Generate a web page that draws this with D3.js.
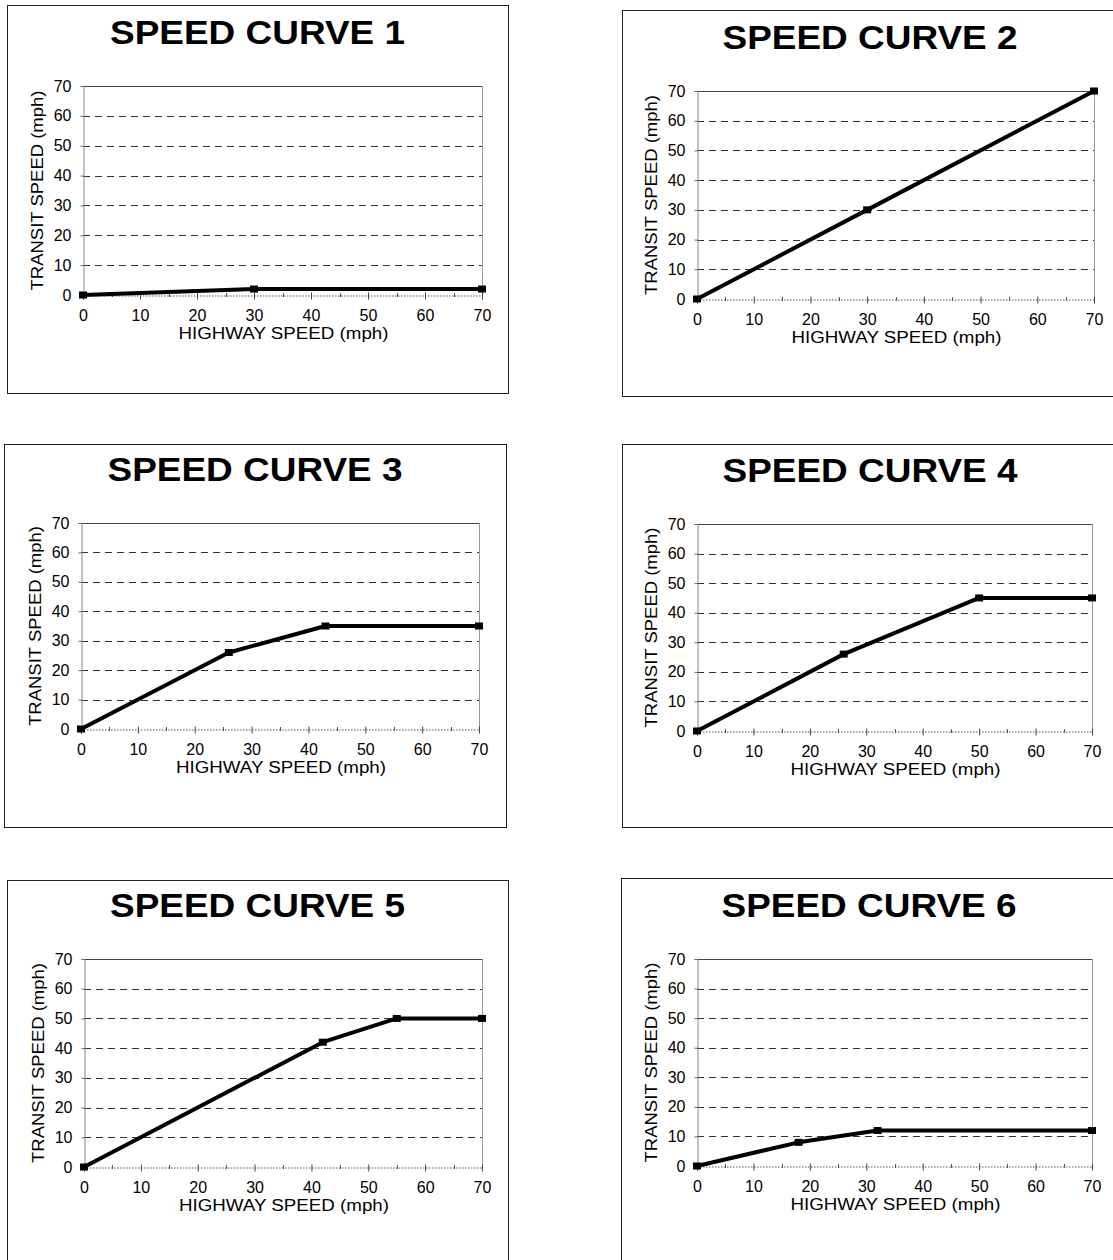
<!DOCTYPE html>
<html>
<head>
<meta charset="utf-8">
<script src="https://cdn.jsdelivr.net/npm/d3@7"></script>
<style>
  html, body { margin: 0; padding: 0; background: #fff; }
  svg { display: block; }
  text { font-family: "Liberation Sans", Arial, sans-serif; fill: #000; }
  .tick text { font-size: 16px; font-family: "Liberation Sans", Arial, sans-serif; }
</style>
</head>
<body>
<svg id="chart" width="1113" height="1260"></svg>
<script>
// Six speed curves: transit speed as a function of highway speed (mph)
const titles = [
  "SPEED CURVE 1", "SPEED CURVE 2", "SPEED CURVE 3",
  "SPEED CURVE 4", "SPEED CURVE 5", "SPEED CURVE 6"
];
const highwaySpeed = [
  [0, 30, 70],
  [0, 30, 70],
  [0, 26, 43, 70],
  [0, 26, 50, 70],
  [0, 42, 55, 70],
  [0, 18, 32, 70]
];
const transitSpeed = [
  [0, 2, 2],
  [0, 30, 70],
  [0, 26, 35, 35],
  [0, 26, 45, 45],
  [0, 42, 50, 50],
  [0, 8, 12, 12]
];
const axisTicks = [0, 10, 20, 30, 40, 50, 60, 70];
const gridTicks = [10, 20, 30, 40, 50, 60];
const minorTicks = [5, 15, 25, 35, 45, 55, 65];
const xAxisTitle = "HIGHWAY SPEED (mph)";
const yAxisTitle = "TRANSIT SPEED (mph)";

// Frame and plot-area placement for each panel
const layout = [
  { bx: 7,   by: 5,   bw: 501, bh: 388, px: 83,  py: 86,  pw: 399, ph: 209 },
  { bx: 622, by: 10,  bw: 500, bh: 386, px: 697, py: 91,  pw: 397, ph: 208 },
  { bx: 4,   by: 444, bw: 502, bh: 383, px: 81,  py: 523, pw: 398, ph: 206 },
  { bx: 622, by: 444, bw: 500, bh: 383, px: 697, py: 524, pw: 395, ph: 207 },
  { bx: 7,   by: 880, bw: 501, bh: 390, px: 84,  py: 959, pw: 398, ph: 208 },
  { bx: 621, by: 878, bw: 500, bh: 392, px: 697, py: 959, pw: 395, ph: 207 }
];

const svg = d3.select("#chart");
svg.append("rect").attr("width", 1113).attr("height", 1260).attr("fill", "#fff");

titles.forEach((title, i) => {
  const L = layout[i];
  const g = svg.append("g");

  // panel frame
  g.append("rect")
    .attr("x", L.bx + 0.5).attr("y", L.by + 0.5)
    .attr("width", L.bw).attr("height", L.bh)
    .attr("fill", "none").attr("stroke", "#222").attr("stroke-width", 1);

  // title
  g.append("text")
    .attr("x", L.bx + L.bw / 2 - (i % 2 ? 2 : 0))
    .attr("y", L.py - 42)
    .attr("text-anchor", "middle")
    .attr("font-size", 33)
    .attr("font-weight", "bold")
    .attr("textLength", 295)
    .attr("lengthAdjust", "spacingAndGlyphs")
    .text(title);

  const x = d3.scaleLinear().domain([0, 70]).range([L.px, L.px + L.pw]);
  const y = d3.scaleLinear().domain([0, 70]).range([L.py + L.ph, L.py]);

  // dashed horizontal gridlines
  g.append("g").selectAll("line").data(gridTicks).join("line")
    .attr("x1", x(0)).attr("x2", x(70))
    .attr("y1", d => Math.round(y(d)) + 0.5).attr("y2", d => Math.round(y(d)) + 0.5)
    .attr("stroke", "#333").attr("stroke-width", 1)
    .attr("stroke-dasharray", "7,5");

  // top and right edges of the plot area
  g.append("line")
    .attr("x1", x(0)).attr("x2", x(70))
    .attr("y1", Math.round(y(70)) + 0.5).attr("y2", Math.round(y(70)) + 0.5)
    .attr("stroke", "#444").attr("stroke-width", 1);
  g.append("line")
    .attr("x1", Math.round(x(70)) + 0.5).attr("x2", Math.round(x(70)) + 0.5)
    .attr("y1", y(70)).attr("y2", y(0))
    .attr("stroke", "#999").attr("stroke-width", 1);

  // y axis
  const yAxis = g.append("g")
    .attr("transform", `translate(${Math.round(x(0)) + 0.5},0)`)
    .call(d3.axisLeft(y).tickValues(axisTicks).tickSize(3).tickPadding(9));
  yAxis.attr("font-size", 16).attr("font-family", "Liberation Sans, Arial, sans-serif");
  yAxis.select(".domain").attr("stroke", "#888");
  yAxis.selectAll(".tick line").attr("stroke", "#666");
  yAxis.selectAll("text").attr("fill", "#000");

  // x axis: dotted baseline, major and minor ticks
  const xAxis = g.append("g")
    .attr("transform", `translate(0,${Math.round(y(0)) + 0.5})`)
    .call(d3.axisBottom(x).tickValues(axisTicks).tickSize(4).tickPadding(10));
  xAxis.attr("font-size", 16).attr("font-family", "Liberation Sans, Arial, sans-serif");
  xAxis.select(".domain").attr("stroke", "#555").attr("stroke-dasharray", "1.5,1.5");
  xAxis.selectAll(".tick line").attr("stroke", "#444").attr("y1", -3);
  xAxis.selectAll("text").attr("fill", "#000");
  g.append("g").selectAll("line").data(minorTicks).join("line")
    .attr("x1", d => Math.round(x(d)) + 0.5).attr("x2", d => Math.round(x(d)) + 0.5)
    .attr("y1", y(0) - 2).attr("y2", y(0) + 2)
    .attr("stroke", "#555").attr("stroke-width", 1);

  // axis titles
  g.append("text")
    .attr("x", x(0) + L.pw / 2 + 1)
    .attr("y", y(0) + 44)
    .attr("text-anchor", "middle")
    .attr("font-size", 16)
    .attr("textLength", 210)
    .attr("lengthAdjust", "spacingAndGlyphs")
    .text(xAxisTitle);
  g.append("text")
    .attr("transform", `translate(${x(0) - 40},${(y(0) + y(70)) / 2}) rotate(-90)`)
    .attr("text-anchor", "middle")
    .attr("font-size", 16)
    .attr("textLength", 200)
    .attr("lengthAdjust", "spacingAndGlyphs")
    .text(yAxisTitle);

  // the curve and its markers
  const pts = highwaySpeed[i].map((h, k) => [h, transitSpeed[i][k]]);
  g.append("path")
    .datum(pts)
    .attr("d", d3.line().x(d => x(d[0])).y(d => y(d[1])))
    .attr("fill", "none").attr("stroke", "#000")
    .attr("stroke-width", 4).attr("stroke-linejoin", "round");
  g.append("g").selectAll("rect").data(pts).join("rect")
    .attr("x", d => x(d[0]) - 4).attr("y", d => y(d[1]) - 3.5)
    .attr("width", 8).attr("height", 7)
    .attr("fill", "#000");
});
</script>
</body>
</html>
